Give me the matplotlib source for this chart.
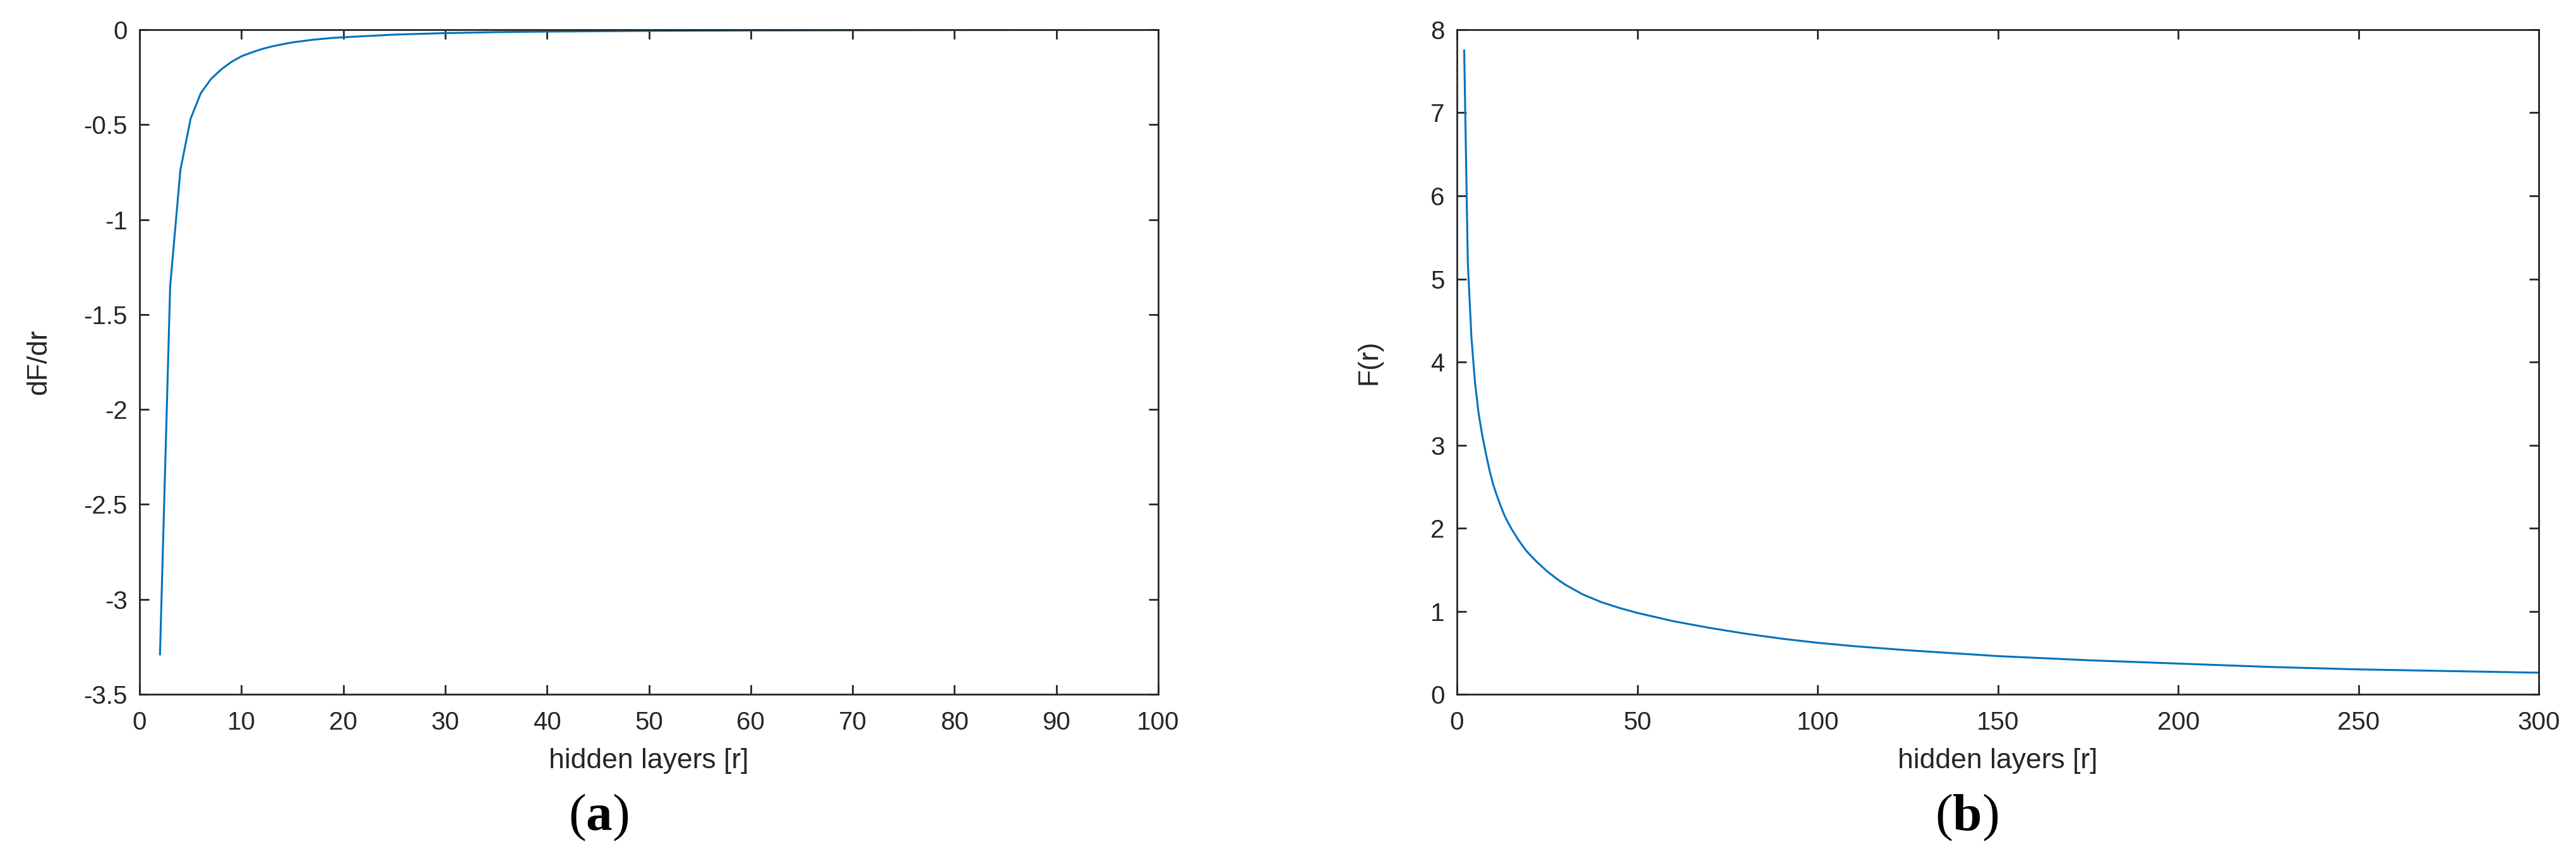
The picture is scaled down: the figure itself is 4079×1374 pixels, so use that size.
import numpy as np
import matplotlib.pyplot as plt

# (a) derivative dF/dr vs hidden layers
r_a = [2, 3, 4, 5, 6, 7, 8, 9, 10, 11, 12, 13, 14, 15, 16, 17, 18, 19, 20,
       25, 30, 35, 40, 50, 60, 70, 80, 90, 100]
dF_a = [-3.29, -1.35, -0.74, -0.47, -0.335, -0.26, -0.21, -0.17, -0.14, -0.12,
        -0.102, -0.088, -0.077, -0.067, -0.06, -0.053, -0.048, -0.043, -0.04,
        -0.026, -0.018, -0.013, -0.010, -0.006, -0.004, -0.003, -0.002, -0.0015, -0.001]

# (b) F(r) vs hidden layers
r_b = [2, 3, 4, 5, 6, 7, 8, 9, 10, 11, 12, 13, 14, 15, 16, 17, 18, 19, 20,
       22, 25, 28, 30, 35, 40, 45, 50, 60, 70, 80, 90, 100, 110, 125, 150,
       175, 200, 225, 250, 275, 300]
F_b = [7.75, 5.2, 4.3, 3.75, 3.38, 3.12, 2.9, 2.7, 2.53, 2.4, 2.28, 2.17, 2.08,
       2.0, 1.93, 1.86, 1.8, 1.74, 1.69, 1.6, 1.48, 1.38, 1.32, 1.2, 1.11, 1.04,
       0.98, 0.88, 0.8, 0.73, 0.67, 0.62, 0.58, 0.53, 0.46, 0.41, 0.37, 0.33,
       0.30, 0.28, 0.26]

xticks_a = list(range(0, 101, 10))
yticks_a = [0, -0.5, -1, -1.5, -2, -2.5, -3, -3.5]
xticks_b = list(range(0, 301, 50))
yticks_b = list(range(0, 9))

plt.rcParams['font.family'] = ['Liberation Sans', 'DejaVu Sans']
plt.rcParams['axes.unicode_minus'] = False
plt.rcParams['mathtext.fontset'] = 'custom'
plt.rcParams['mathtext.rm'] = 'Liberation Serif'
plt.rcParams['mathtext.bf'] = 'Liberation Serif:bold'

line_color = '#0072BD'
ax_color = '#262626'

fig = plt.figure(figsize=(40.79, 13.74), dpi=100)
ax1 = fig.add_axes([0.0542, 0.2001, 0.3954, 0.7657])
ax2 = fig.add_axes([0.5656, 0.2001, 0.4200, 0.7657])


def style(ax, xt, yt, xlim, ylim, ylabel, ylab_x):
    ax.set_xlim(*xlim)
    ax.set_ylim(*ylim)
    ax.set_xticks(xt)
    ax.set_yticks(yt)
    ax.set_yticklabels([f'{v:g}' for v in yt])
    ax.tick_params(direction='in', length=11, width=2, labelsize=29,
                   colors=ax_color, top=True, right=True)
    ax.tick_params(axis='x', pad=19)
    ax.tick_params(axis='y', pad=14)
    for s in ax.spines.values():
        s.set_linewidth(2)
        s.set_color(ax_color)
    ax.set_xlabel('hidden layers [r]', fontsize=32, color=ax_color, labelpad=15)
    ax.set_ylabel(ylabel, fontsize=32, color=ax_color)
    ax.yaxis.set_label_coords(ylab_x, 0.5)


ax1.plot(r_a, dF_a, color=line_color, linewidth=2.2)
style(ax1, xticks_a, yticks_a, (0, 100), (-3.5, 0), 'dF/dr', -0.086)

ax2.plot(r_b, F_b, color=line_color, linewidth=2.2)
style(ax2, xticks_b, yticks_b, (0, 300), (0, 8), 'F(r)', -0.0694)

fig.text(0.2324, 0.058, r'($\mathbf{a}$)', fontsize=60, ha='center', va='center',
         family='Liberation Serif')
fig.text(0.7634, 0.058, r'($\mathbf{b}$)', fontsize=60, ha='center', va='center',
         family='Liberation Serif')

fig.savefig('out.png', dpi=100)
